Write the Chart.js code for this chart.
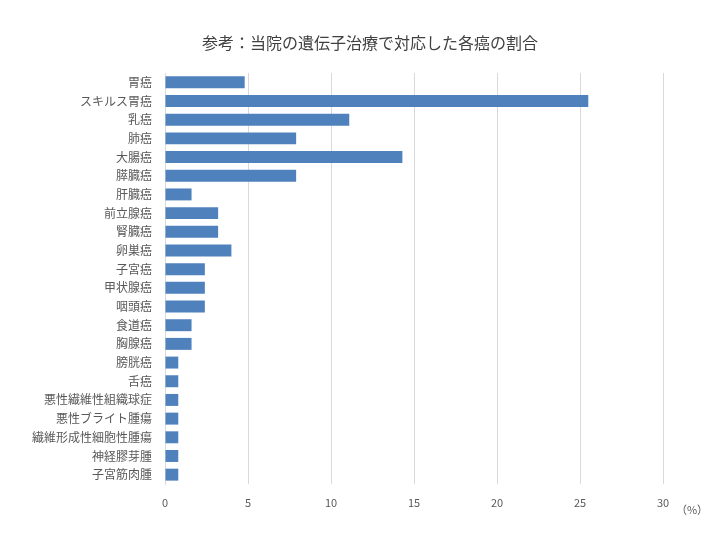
<!DOCTYPE html>
<html>
<head>
<meta charset="utf-8">
<script src="https://cdn.jsdelivr.net/npm/chart.js@4"></script>
<style>
  html, body { margin: 0; padding: 0; background: #fff; }
  #wrap { width: 720px; height: 540px; position: relative; }
</style>
</head>
<body>
<div id="wrap"><canvas id="chart" width="720" height="540"></canvas></div>
<script>
// 癌種と割合（%）
const cancers = [
  "胃癌", "スキルス胃癌", "乳癌", "肺癌", "大腸癌", "膵臓癌", "肝臓癌",
  "前立腺癌", "腎臓癌", "卵巣癌", "子宮癌", "甲状腺癌", "咽頭癌", "食道癌",
  "胸腺癌", "膀胱癌", "舌癌", "悪性繊維性組織球症", "悪性ブライト腫瘍",
  "繊維形成性細胞性腫瘍", "神経膠芽腫", "子宮筋肉腫"
];
const ratios = [
  4.8, 25.5, 11.1, 7.9, 14.3, 7.9, 1.6,
  3.2, 3.2, 4.0, 2.4, 2.4, 2.4, 1.6,
  1.6, 0.8, 0.8, 0.8, 0.8,
  0.8, 0.8, 0.8
];
const titleText = "参考：当院の遺伝子治療で対応した各癌の割合";
const unitText = "（%）";

const FONT = '"Noto Sans CJK JP", "Noto Sans", sans-serif';

// タイトルと単位は手で描く
const extraText = {
  id: "extraText",
  afterDraw(chart) {
    const ctx = chart.ctx;
    ctx.save();
    ctx.fillStyle = "#404040";
    ctx.font = "16px " + FONT;
    ctx.textAlign = "center";
    ctx.textBaseline = "middle";
    ctx.fillText(titleText, 370, 43);
    ctx.fillStyle = "#595959";
    ctx.font = "11px " + FONT;
    ctx.fillText(unitText, 692, 510);
    ctx.restore();
  }
};

new Chart(document.getElementById("chart"), {
  type: "bar",
  data: {
    labels: cancers,
    datasets: [{
      data: ratios,
      backgroundColor: "#4f81bd",
      barPercentage: 0.64,
      categoryPercentage: 1.0
    }]
  },
  options: {
    indexAxis: "y",
    responsive: false,
    animation: false,
    devicePixelRatio: 1,
    layout: { padding: { top: 73, left: 0, right: 57, bottom: 0 } },
    plugins: {
      legend: { display: false },
      tooltip: { enabled: false }
    },
    scales: {
      x: {
        min: 0,
        max: 30,
        ticks: {
          stepSize: 5,
          color: "#595959",
          font: { family: FONT, size: 11 },
          padding: 12,
          maxRotation: 0
        },
        grid: { color: "#d9d9d9", drawTicks: false },
        border: { display: false },
        afterFit(scale) { scale.height = 56; }
      },
      y: {
        ticks: {
          color: "#595959",
          font: { family: FONT, size: 12 },
          padding: 13,
          autoSkip: false
        },
        grid: { display: false, drawTicks: false },
        border: { color: "#d9d9d9" },
        afterFit(scale) { scale.width = 165; }
      }
    }
  },
  plugins: [extraText]
});
</script>
</body>
</html>
